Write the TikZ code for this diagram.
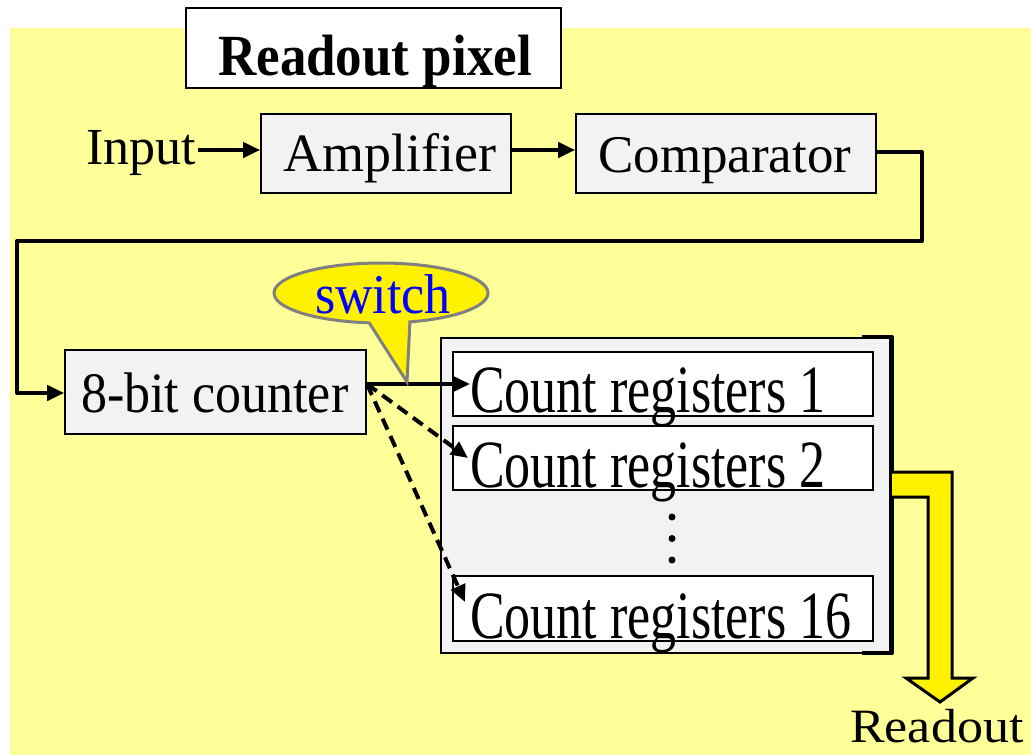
\documentclass[tikz,border=0pt]{standalone}
\usepackage{fontspec}
\setmainfont{Liberation Serif}
\usetikzlibrary{arrows.meta,shapes.callouts,calc}
\definecolor{bgyellow}{HTML}{FFFF99}
\definecolor{boxgray}{HTML}{F2F2F2}
\definecolor{calloutgray}{HTML}{808080}
\newcommand{\tall}[2]{\scalebox{1}[#1]{#2}}
\tikzset{
  blk/.style={draw=black, line width=1.6pt, fill=boxgray, inner sep=0pt},
  reg/.style={draw=black, line width=1.6pt, fill=white, inner sep=0pt,
              minimum width=420pt},
  wire/.style={line width=4pt, -{Triangle[length=17pt,width=15pt]}},
  dwire/.style={wire, dash pattern=on 12pt off 7pt},
  txt/.style={inner sep=0pt, anchor=base west, font=\fontsize{52}{60}\selectfont},
  dot/.style={circle, fill=black, inner sep=0pt, minimum size=7pt},
}
\begin{document}
\begin{tikzpicture}[x=1pt,y=-1pt]
\useasboundingbox (0,0) rectangle (1031,755);
% background panel
\fill[bgyellow] (10,28) rectangle (1031,755);

% title
\node[draw=black, line width=1.6pt, fill=white, minimum width=375pt, minimum height=80pt,
      inner sep=0pt] (title) at (373.5,48) {};
\node[txt, font=\fontsize{53}{60}\selectfont\bfseries] (ttext) at (218,75) {\tall{1.1}{Readout pixel}};

% front-end chain
\node[txt] (in) at (86,164) {Input};
\node[blk, minimum width=250pt, minimum height=79pt] (amp) at (386,153.5) {};
\node[txt, font=\fontsize{54}{60}\selectfont] (ampt) at (283,171.5) {Amplifier};
\node[blk, minimum width=300pt, minimum height=79pt] (cmp) at (726,153.5) {};
\node[txt, font=\fontsize{53}{60}\selectfont] (cmpt) at (598,172) {Comparator};
\coordinate (inend) at (198,150);
\draw[wire] (inend) -- (amp.west |- inend);
\draw[wire] (amp.east |- inend) -- (cmp.west |- inend);

% counter
\node[blk, minimum width=301pt, minimum height=84pt] (cnt) at (215.5,392) {};
\node[txt] (cntt) at (81,412) {\tall{1.1}{8-bit counter}};
\coordinate (c1) at (922,152);
\coordinate (c2) at (922,241);
\coordinate (c3) at (17,241);
\coordinate (c4) at (17,393);
\draw[wire, line join=round] (cmp.east |- c1) -- (c1) -- (c2) -- (c3) -- (c4) -- (cnt.west |- c4);

% register bank
\node[draw=black, line width=1.2pt, fill=boxgray, minimum width=449pt, minimum height=315pt,
      inner sep=0pt] (bank) at (665.5,495.5) {};
\draw[line width=4pt, line join=round] (862,337) -- (892,337) -- (892,653) -- (862,653);
\node[reg, minimum height=64pt] (r1) at (663,384) {};
\node[reg, minimum height=64pt] (r2) at (663,458) {};
\node[reg, minimum height=65pt] (r16) at (663,608.5) {};
\node[txt] (r1t) at (470,412) {\tall{1.3}{Count registers 1}};
\node[txt] (r2t) at (470,487) {\tall{1.3}{Count registers 2}};
\node[txt] (r16t) at (470,638) {\tall{1.3}{Count registers 16}};
\node[dot] (d1) at (672,517) {};
\node[dot] (d2) at (672,538.5) {};
\node[dot] (d3) at (672,560) {};

% switch paths
\coordinate (s0) at (367,384);
\coordinate (s1) at (470,384);
\coordinate (s2) at (468,458);
\coordinate (s16) at (465,602);
\draw[wire] (s0) -- (s1);
\draw[dwire] (s0) -- (s2);
\draw[dwire] (s0) -- (s16);

% switch callout
\node[ellipse callout, draw=calloutgray, fill=yellow, line width=3pt,
      minimum width=214pt, minimum height=60pt, inner sep=0pt,
      callout absolute pointer={(407,382)}, callout pointer arc=22] (sw) at (381,293) {};
\node[txt, text=blue] (swt) at (315,313) {\tall{1.08}{switch}};

% readout arrow
\draw[line width=3pt, fill=yellow, line join=miter]
  (892,472) -- (952,472) -- (952,678) -- (973,678) -- (940,702)
  -- (906,678) -- (928,678) -- (928,497) -- (892,497);
\node[txt] (ro) at (850,742) {\tall{0.92}{Readout}};
\end{tikzpicture}
\end{document}
